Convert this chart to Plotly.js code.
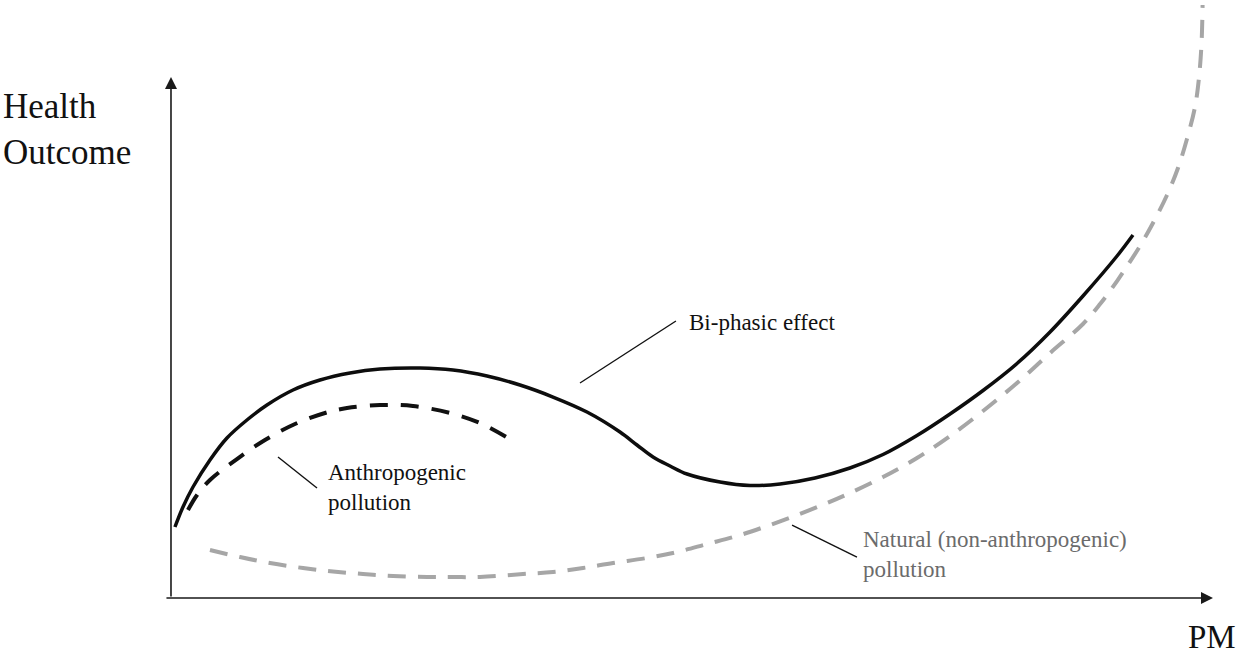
<!DOCTYPE html>
<html>
<head>
<meta charset="utf-8">
<script src="https://cdn.plot.ly/plotly-3.0.1.min.js"></script>
<style>
  html, body { margin: 0; padding: 0; background: #ffffff; }
  #chart { width: 1240px; height: 656px; }
</style>
</head>
<body>
<div id="chart"></div>
<script>
// ---- Data (PM on x, Health Outcome on y; conceptual units 0..100) ----
const biphasicPM = [0.38, 1.15, 2.11, 3.74, 5.37, 7.29, 9.21, 11.71, 14.30, 17.18, 20.06, 23.90, 27.06, 30.33, 33.49, 36.66, 39.92, 43.09, 44.72, 46.26, 47.89, 49.52, 52.69, 55.57, 58.45, 61.80, 65.16, 68.33, 71.59, 74.76, 77.93, 81.19, 84.36, 87.52, 90.79, 92.32];
const biphasicHealth = [13.63, 17.47, 21.31, 26.49, 30.71, 34.17, 37.04, 39.92, 41.84, 43.19, 43.95, 44.15, 43.76, 42.61, 40.88, 38.58, 35.70, 31.86, 29.37, 27.06, 25.34, 23.80, 22.26, 21.59, 21.88, 23.03, 24.95, 27.54, 31.19, 35.32, 39.83, 45.01, 51.06, 57.97, 65.64, 69.67];

const anthroPM = [1.63, 2.50, 3.74, 6.33, 9.02, 11.90, 14.78, 16.89, 20.06, 23.22, 26.78, 29.65, 32.34];
const anthroHealth = [16.89, 19.77, 22.65, 26.68, 30.33, 33.40, 35.51, 36.47, 37.04, 36.85, 35.51, 33.59, 30.71];

const naturalPM = [3.74, 6.62, 9.50, 12.67, 15.55, 18.43, 21.31, 24.57, 27.06, 29.65, 33.78, 36.66, 39.54, 42.42, 45.68, 48.56, 51.44, 54.32, 57.20, 60.08, 62.96, 65.16, 68.33, 71.59, 74.76, 77.93, 81.19, 84.36, 87.52, 89.16, 90.79, 92.99, 94.24, 95.59, 96.64, 97.50, 98.27, 98.66, 98.90, 99.00];
const naturalHealth = [9.21, 7.87, 6.72, 5.76, 5.09, 4.61, 4.22, 4.03, 4.03, 4.03, 4.61, 4.99, 5.76, 6.72, 7.68, 8.83, 10.36, 11.90, 13.82, 15.93, 18.23, 20.15, 23.22, 26.87, 31.09, 35.89, 41.27, 47.02, 52.59, 56.43, 60.84, 67.56, 71.98, 77.35, 82.53, 88.10, 94.24, 100.00, 106.53, 113.82];

const labelBiphasic = "Bi-phasic effect";
const labelAnthro = "Anthropogenic<br>pollution";
const labelNatural = "Natural (non-anthropogenic)<br>pollution";
const labelY = "Health<br>Outcome";
const labelX = "PM";

// ---- Traces ----
const traces = [
  {
    x: naturalPM, y: naturalHealth, type: 'scatter', mode: 'lines',
    line: { color: '#a6a6a6', width: 4, dash: '18px,12px', shape: 'spline', smoothing: 1 },
    hoverinfo: 'skip'
  },
  {
    x: anthroPM, y: anthroHealth, type: 'scatter', mode: 'lines',
    line: { color: '#111111', width: 4, dash: '18px,13px', shape: 'spline', smoothing: 1 },
    hoverinfo: 'skip'
  },
  {
    x: biphasicPM, y: biphasicHealth, type: 'scatter', mode: 'lines',
    line: { color: '#0d0d0d', width: 3.5, shape: 'spline', smoothing: 1 },
    hoverinfo: 'skip'
  }
];

const serif = "'Liberation Serif', 'Times New Roman', 'DejaVu Serif', serif";
const hiddenAxis = { showgrid: false, zeroline: false, showticklabels: false, ticks: '', showline: false, fixedrange: true };

const layout = {
  width: 1240, height: 656,
  margin: { l: 0, r: 0, t: 0, b: 0, pad: 0 },
  paper_bgcolor: '#ffffff', plot_bgcolor: '#ffffff',
  showlegend: false, hovermode: false,
  xaxis: Object.assign({ range: [-16.41, 102.59] }, hiddenAxis),
  yaxis: Object.assign({ range: [-11.13, 114.78] }, hiddenAxis),
  shapes: [
    { type: 'line', xref: 'x', yref: 'y', x0: 39.25, y0: 41.27, x1: 48.46, y1: 53.17, line: { color: '#111', width: 1.4 } },
    { type: 'line', xref: 'x', yref: 'y', x0: 10.27, y0: 27.06, x1: 14.01, y1: 21.11, line: { color: '#111', width: 1.4 } },
    { type: 'line', xref: 'x', yref: 'y', x0: 59.60, y0: 14.01, x1: 65.83, y1: 7.87, line: { color: '#111', width: 1.4 } }
  ],
  annotations: [
    // axes with arrow heads
    { xref: 'x', yref: 'y', axref: 'x', ayref: 'y', x: 0, y: 100, ax: 0, ay: 0, text: '', showarrow: true,
      arrowhead: 2, arrowsize: 1.5, arrowwidth: 1.6, arrowcolor: '#1a1a1a' },
    { xref: 'x', yref: 'y', axref: 'x', ayref: 'y', x: 100, y: 0, ax: -0.58, ay: 0, text: '', showarrow: true,
      arrowhead: 2, arrowsize: 1.5, arrowwidth: 1.6, arrowcolor: '#1a1a1a' },
    // axis titles
    { xref: 'x', yref: 'y', x: -16.30, y: 98.5, xanchor: 'left', yanchor: 'top', align: 'left', showarrow: false,
      text: labelY, font: { family: serif, size: 35, color: '#111' } },
    { xref: 'x', yref: 'y', x: 102.35, y: -3.57, xanchor: 'right', yanchor: 'top', align: 'right', showarrow: false,
      text: labelX, font: { family: serif, size: 33, color: '#111' } },
    // curve labels
    { xref: 'x', yref: 'y', x: 49.52, y: 55.76, xanchor: 'left', yanchor: 'top', align: 'left', showarrow: false,
      text: labelBiphasic, font: { family: serif, size: 23, color: '#111' } },
    { xref: 'x', yref: 'y', x: 14.88, y: 26.78, xanchor: 'left', yanchor: 'top', align: 'left', showarrow: false,
      text: labelAnthro, font: { family: serif, size: 23, color: '#111' } },
    { xref: 'x', yref: 'y', x: 66.22, y: 13.92, xanchor: 'left', yanchor: 'top', align: 'left', showarrow: false,
      text: labelNatural, font: { family: serif, size: 23, color: '#6b6b6b' } }
  ]
};

Plotly.newPlot('chart', traces, layout, { staticPlot: true, displayModeBar: false });
</script>
</body>
</html>
